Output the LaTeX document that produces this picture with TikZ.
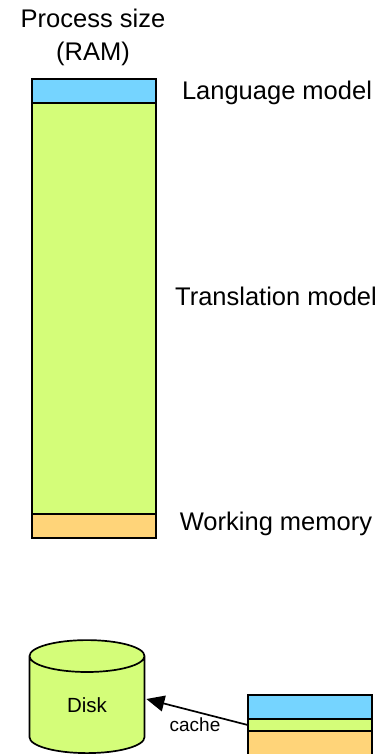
\documentclass[tikz,border=0pt]{standalone}
\usepackage{fontspec}
\setmainfont{Liberation Sans}
\usetikzlibrary{shapes.geometric,arrows.meta}
\definecolor{lmblue}{RGB}{117,212,255}
\definecolor{tmgreen}{RGB}{212,253,121}
\definecolor{wmorange}{RGB}{255,212,121}
\tikzset{bar/.style = {draw,minimum width = 124pt,inner sep = 0pt,line width = 1.7pt,anchor = north},
label/.style = {font = \fontsize{25.5}{33}\selectfont,align = center},
small/.style = {font = \fontsize{19}{23}\selectfont},
drum/.style = {cylinder,shape border rotate=90,draw,line width = 1.7pt,aspect = .8,minimum width = 115pt,minimum height = 113pt,inner sep = 0pt,font = \fontsize{20.5}{24}\selectfont},
arrow/.style = {-{Triangle[length = 18pt,width = 16pt]},line width = 1.7pt}}
\begin{document}
\begin{tikzpicture}[x=1pt,y=-1pt]
\useasboundingbox (0,0) rectangle (381,754);
\node[label] (title) at (93,37) {Process size \\ (RAM)};

\node[bar,fill=lmblue,minimum height = 24pt] (lm) at (94,78) {};
\node[bar,fill=tmgreen,minimum height = 411pt] (tm) at (94,102) {};
\node[bar,fill=wmorange,minimum height = 24pt] (wm) at (94,513) {};

\node[label] (lmlabel) at (277,93) {Language model};
\node[label] (tmlabel) at (276,296) {Translation model};
\node[label] (wmlabel) at (276,524) {Working memory};

\node[drum,fill=tmgreen] (disk) at (87,705) {Disk};

\node[bar,fill=lmblue,minimum height = 24pt] (clm) at (310,694) {};
\node[bar,fill=tmgreen,minimum height = 12pt] (ctm) at (310,718) {};
\node[bar,fill=wmorange,minimum height = 24pt] (cwm) at (310,730) {};

\draw[arrow] (ctm.west) -- ([shift = {(1pt,6pt)}]disk.east);
\node[small] (cachelabel) at (195,725) {cache};
\end{tikzpicture}
\end{document}
